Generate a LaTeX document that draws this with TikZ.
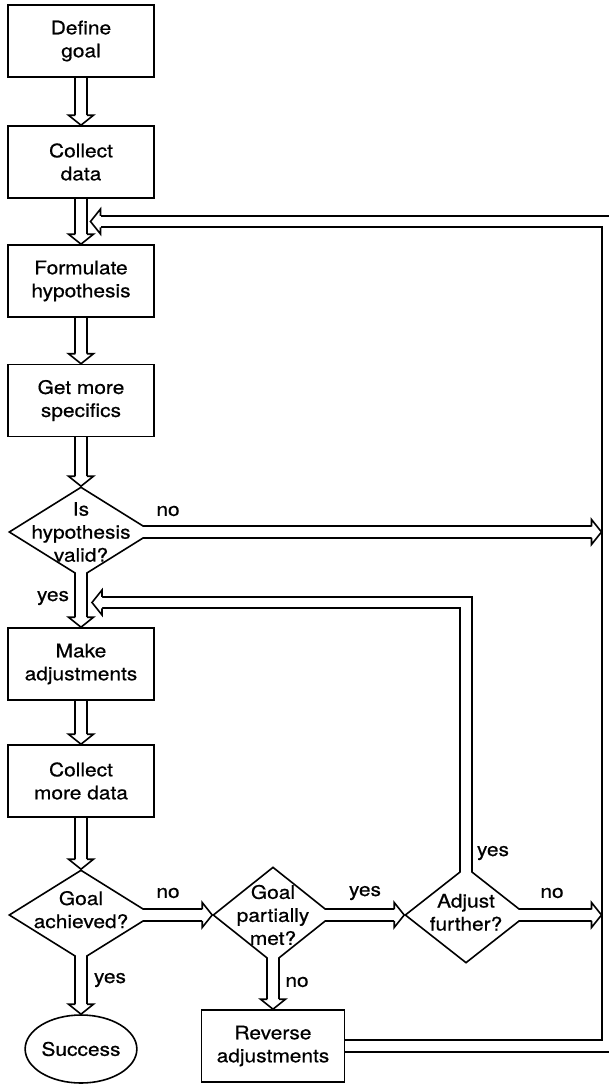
\documentclass[tikz,border=0pt]{standalone}
\usepackage{fontspec}
\setmainfont[FakeStretch=1.12,FakeBold=0.6]{TeX Gyre Heros}
\usetikzlibrary{shapes.geometric,calc,backgrounds}

% open (hollow) arrow head: tip at #1, pointing in direction #2 (degrees)
\newcommand\fathead[2]{%
  \filldraw[headstyle, shift={(#1)}, rotate=#2]
    (-10,5.75) -- (-10,12.5) -- (0,0) -- (-10,-12.5) -- (-10,-5.75);}

\begin{document}
\begin{tikzpicture}[
  x=0.75pt, y=-0.75pt,
  every node/.style={font=\fontsize{14}{17.25}\selectfont, inner sep=0pt},
  stepbox/.style={draw, fill=white, line width=1.2pt, minimum width=109.5pt,
    minimum height=54pt, align=center},
  decision/.style={draw, fill=white, diamond, line width=1.2pt},
  fat/.style={double, double distance=7.45pt, line width=1.2pt, line join=miter},
  headstyle/.style={draw, fill=white, line width=1.2pt, line join=miter},
  gap/.style={white, line width=7.1pt}
]
\useasboundingbox (0,0) rectangle (608,1085);
\clip (0,0) rectangle (608,1085);

% main column
\node[stepbox] (goal) at (81,41) {Define\\goal};
\node[stepbox] (collect) at (81,162) {Collect\\data};
\node[stepbox] (formulate) at (81,281) {Formulate\\hypothesis};
\node[stepbox] (specifics) at (81,400.5) {Get more\\specifics};
\node[decision, minimum width=108pt, minimum height=67.5pt,
  label={[align=center]center:Is\\hypothesis\\valid?}] (valid) at (81,532) {};
\node[stepbox] (adjust) at (81,664) {Make\\adjustments};
\node[stepbox] (more) at (81,781) {Collect\\more data};
\node[decision, minimum width=108pt, minimum height=67.5pt,
  label={[align=center, yshift=4pt]center:Goal\\achieved?}] (achieved) at (81,915) {};
\node[draw, fill=white, ellipse, line width=1.2pt, minimum width=72pt,
  minimum height=51pt] (success) at (81,1049) {Success};

% bottom row
\node[decision, minimum width=90pt, minimum height=72pt,
  label={[align=center]center:Goal\\partially\\met?}] (partial) at (273,915) {};
\node[decision, minimum width=91.5pt, minimum height=72pt,
  label={[align=center, yshift=2pt]center:Adjust\\further?}] (further) at (466,915) {};
\node[stepbox, minimum width=107pt] (reverse) at (273,1046) {Reverse\\adjustments};

% routing points
\coordinate (chan) at (608,0);
\coordinate (yesin) at ($(valid.south)!0.5!(adjust.north)+(11,0)$);
\coordinate (backin) at ($(collect.south)!0.5!(formulate.north)+(9.5,0)$);

% hollow shafts, under the shapes
\begin{scope}[on background layer]
\draw[fat] (goal.south) -- ($(collect.north)+(0,-10)$);
\draw[fat] (collect.south) -- ($(formulate.north)+(0,-10)$);
\draw[fat] (formulate.south) -- ($(specifics.north)+(0,-10)$);
\draw[fat] (specifics.south) -- ($(valid.north)+(0,-10)$);
\draw[fat] (valid.center) -- ($(adjust.north)+(0,-10)$);
\draw[fat] (valid.center) -- ($(valid.center -| chan)+(-16.5,0)$);
\draw[fat] (adjust.south) -- ($(more.north)+(0,-10)$);
\draw[fat] (more.south) -- ($(achieved.north)+(0,-10)$);
\draw[fat] (achieved.center) -- ($(success.north)+(0,-10)$);
\draw[fat] (achieved.center) -- ($(partial.west)+(-10,0)$);
\draw[fat] (partial.center) -- ($(further.west)+(-10,0)$);
\draw[fat] (partial.center) -- ($(reverse.north)+(0,-10)$);
\draw[fat] (further.center) -- ($(further.center -| chan)+(-16.5,0)$);
\draw[fat] (further.center) |- ($(yesin)+(10,0)$);
\draw[fat] (reverse.east) -- (reverse.east -| chan) |- ($(backin)+(10,0)$);
\end{scope}

% open the decision outlines where the shafts leave them
\draw[gap] ($(valid.south)+(0,-8)$) -- ($(valid.south)+(0,2)$);
\draw[gap] ($(valid.east)+(-12,0)$) -- ($(valid.east)+(2,0)$);
\draw[gap] ($(achieved.south)+(0,-8)$) -- ($(achieved.south)+(0,2)$);
\draw[gap] ($(achieved.east)+(-12,0)$) -- ($(achieved.east)+(2,0)$);
\draw[gap] ($(partial.south)+(0,-8)$) -- ($(partial.south)+(0,2)$);
\draw[gap] ($(partial.east)+(-10,0)$) -- ($(partial.east)+(2,0)$);
\draw[gap] ($(further.north)+(0,8)$) -- ($(further.north)+(0,-2)$);
\draw[gap] ($(further.east)+(-10,0)$) -- ($(further.east)+(2,0)$);

% arrow heads
\fathead{collect.north}{-90}
\fathead{formulate.north}{-90}
\fathead{specifics.north}{-90}
\fathead{valid.north}{-90}
\fathead{adjust.north}{-90}
\fathead{more.north}{-90}
\fathead{achieved.north}{-90}
\fathead{success.north}{-90}
\fathead{reverse.north}{-90}
\fathead{partial.west}{0}
\fathead{further.west}{0}
\fathead{$(valid.center -| chan)+(-6.5,0)$}{0}
\fathead{$(further.center -| chan)+(-6.5,0)$}{0}
\fathead{yesin}{180}
\fathead{backin}{180}

% branch labels
\node (noValid) at (168,511) {no};
\node (yesValid) at (53,598) {yes};
\node (noAch) at (168,893) {no};
\node (yesAch) at (110,980) {yes};
\node (yesPart) at (365,893) {yes};
\node (noPart) at (297,982) {no};
\node (yesFur) at (493,853) {yes};
\node (noFur) at (552,893) {no};
\end{tikzpicture}
\end{document}
